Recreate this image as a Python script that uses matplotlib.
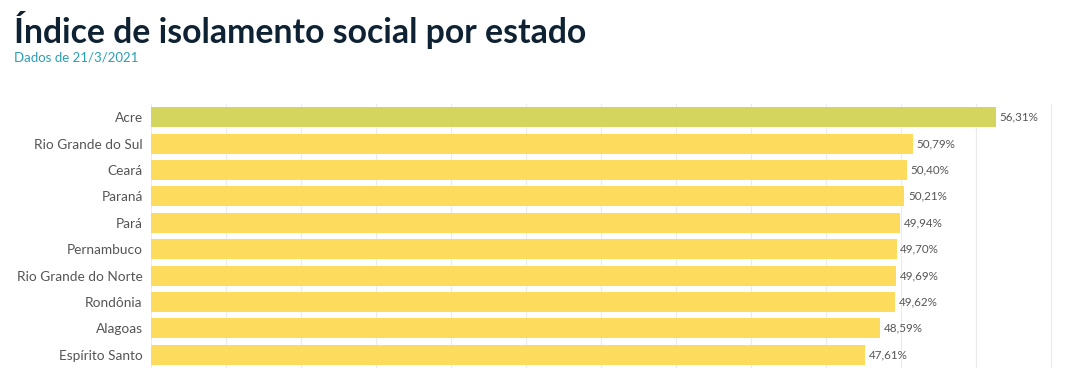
import matplotlib.pyplot as plt

# data
estados = ['Acre', 'Rio Grande do Sul', 'Ceará', 'Paraná', 'Pará', 'Pernambuco',
           'Rio Grande do Norte', 'Rondônia', 'Alagoas', 'Espírito Santo']
isolamento = [56.31, 50.79, 50.40, 50.21, 49.94, 49.70, 49.69, 49.62, 48.59, 47.61]
destaque = 'Acre'

cor_destaque = '#d3d55f'
cor_barra = '#fddb5c'
cor_texto = '#555555'

fig = plt.figure(figsize=(10.71, 3.71), dpi=100)
ax = fig.add_axes([151 / 1071, 3 / 371, 907.5 / 1071, 264 / 371])

y = list(range(len(estados)))
cores = [cor_destaque if e == destaque else cor_barra for e in estados]
ax.barh(y, isolamento, height=0.76, color=cores, zorder=2)

for yi, v in zip(y, isolamento):
    ax.text(v + 0.25, yi, ('%.2f%%' % v).replace('.', ','), va='center', ha='left',
            fontsize=8.4, color=cor_texto, family='Lato')

ax.set_xlim(0, 60.5)
ax.set_ylim(len(estados) - 0.5, -0.5)
ax.set_yticks(y)
ax.set_yticklabels(estados, fontsize=9.8, color=cor_texto, family='Lato')
ax.set_xticks(range(0, 61, 5))
ax.set_xticklabels([])
ax.tick_params(length=0, axis='both', pad=6)
ax.grid(axis='x', color='#ebebeb', linewidth=0.8, zorder=0)
for s in ax.spines.values():
    s.set_visible(False)

fig.text(14 / 1071, 1 - 30 / 371, 'Índice de isolamento social por estado', fontsize=24.3,
         fontweight='bold', color='#0e2233', family='Lato', va='center', ha='left')
fig.text(14 / 1071, 1 - 58 / 371, 'Dados de 21/3/2021', fontsize=9.5,
         color='#2a9fb2', family='Lato', va='center', ha='left')

fig.savefig('out.png', dpi=100)
